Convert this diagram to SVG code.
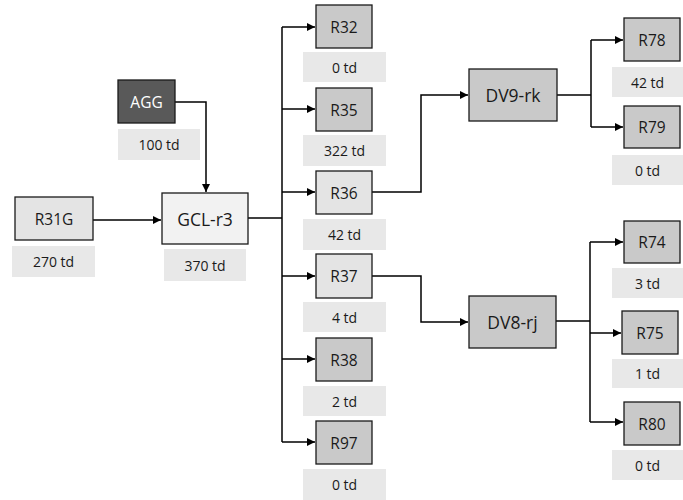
<svg xmlns="http://www.w3.org/2000/svg" width="683" height="500" viewBox="0 0 683 500">
  <defs>
    <marker id="arrow" viewBox="0 0 10 10" refX="10" refY="5" markerWidth="8" markerHeight="8" markerUnits="userSpaceOnUse" orient="auto">
      <path d="M0,0 L10,5 L0,10 z" fill="#000"/>
    </marker>
    <style>
      .box { stroke: #1a1a1a; stroke-width: 1.3; }
      .dark { fill: #595959; }
      .mid { fill: #c9c9c9; }
      .light { fill: #e4e4e4; }
      .pale { fill: #f2f2f2; }
      .tag { fill: #e8e8e8; }
      text { font-family: "Open Sans", "Noto Sans", "Liberation Sans", sans-serif; text-anchor: middle; dominant-baseline: central; fill: #1a1a1a; }
      .name { font-size: 15.5px; }
      .big { font-size: 17.5px; }
      .td { font-size: 14px; }
      .wire { fill: none; stroke: #000; stroke-width: 1.5; }
    </style>
  </defs>
  <rect width="683" height="500" fill="#fff"/>

  <!-- connectors -->
  <g id="connectors">
    <path class="wire" d="M175,102 H206 V192" marker-end="url(#arrow)"/>
    <path class="wire" d="M93,220 H161" marker-end="url(#arrow)"/>
    <path class="wire" d="M248,218 H282"/>
    <path class="wire" d="M282,27 V442"/>
    <path class="wire" d="M282,27 H315" marker-end="url(#arrow)"/>
    <path class="wire" d="M282,109 H315" marker-end="url(#arrow)"/>
    <path class="wire" d="M282,192 H315" marker-end="url(#arrow)"/>
    <path class="wire" d="M282,276 H315" marker-end="url(#arrow)"/>
    <path class="wire" d="M282,359 H315" marker-end="url(#arrow)"/>
    <path class="wire" d="M282,442 H315" marker-end="url(#arrow)"/>
    <path class="wire" d="M372,192 H421 V95 H468" marker-end="url(#arrow)"/>
    <path class="wire" d="M372,276 H421 V322 H468" marker-end="url(#arrow)"/>
    <path class="wire" d="M557,95 H591"/>
    <path class="wire" d="M591,40 V127"/>
    <path class="wire" d="M591,40 H623" marker-end="url(#arrow)"/>
    <path class="wire" d="M591,127 H623" marker-end="url(#arrow)"/>
    <path class="wire" d="M556,321 H590"/>
    <path class="wire" d="M590,242 V422"/>
    <path class="wire" d="M590,242 H623" marker-end="url(#arrow)"/>
    <path class="wire" d="M590,333 H621" marker-end="url(#arrow)"/>
    <path class="wire" d="M590,422 H623" marker-end="url(#arrow)"/>
  </g>

  <g id="AGG">
    <rect class="box dark" x="118" y="80" width="57" height="43"/>
    <text class="name" x="146.5" y="101.5" style="fill:#fff">AGG</text>
    <rect class="tag" x="118" y="129" width="82" height="31"/>
    <text class="td" x="159" y="144.5">100 td</text>
  </g>

  <g id="R31G">
    <rect class="box light" x="15" y="197" width="78" height="43"/>
    <text class="name" x="54" y="218.5">R31G</text>
    <rect class="tag" x="12" y="246" width="83" height="31"/>
    <text class="td" x="53.5" y="261.5">270 td</text>
  </g>

  <g id="GCL-r3">
    <rect class="box pale" x="162" y="193" width="86" height="51"/>
    <text class="big" x="205" y="218.5">GCL-r3</text>
    <rect class="tag" x="164" y="249" width="82" height="32"/>
    <text class="td" x="205" y="265">370 td</text>
  </g>

  <g id="R32">
    <rect class="box mid" x="316" y="5" width="56" height="43"/>
    <text class="name" x="344" y="26.5">R32</text>
    <rect class="tag" x="303" y="52" width="83" height="30"/>
    <text class="td" x="344.5" y="67">0 td</text>
  </g>

  <g id="R35">
    <rect class="box mid" x="316" y="88" width="56" height="43"/>
    <text class="name" x="344" y="109.5">R35</text>
    <rect class="tag" x="303" y="135" width="83" height="31"/>
    <text class="td" x="344.5" y="150.5">322 td</text>
  </g>

  <g id="R36">
    <rect class="box light" x="316" y="171" width="56" height="43"/>
    <text class="name" x="344" y="192.5">R36</text>
    <rect class="tag" x="303" y="219" width="83" height="31"/>
    <text class="td" x="344.5" y="234.5">42 td</text>
  </g>

  <g id="R37">
    <rect class="box light" x="316" y="254" width="56" height="44"/>
    <text class="name" x="344" y="276">R37</text>
    <rect class="tag" x="303" y="302" width="83" height="30"/>
    <text class="td" x="344.5" y="317">4 td</text>
  </g>

  <g id="R38">
    <rect class="box mid" x="316" y="338" width="56" height="43"/>
    <text class="name" x="344" y="359.5">R38</text>
    <rect class="tag" x="303" y="386" width="83" height="30"/>
    <text class="td" x="344.5" y="401">2 td</text>
  </g>

  <g id="R97">
    <rect class="box mid" x="316" y="421" width="56" height="43"/>
    <text class="name" x="344" y="442.5">R97</text>
    <rect class="tag" x="303" y="469" width="83" height="31"/>
    <text class="td" x="344.5" y="484.5">0 td</text>
  </g>

  <g id="DV9-rk">
    <rect class="box mid" x="469" y="69" width="88" height="52"/>
    <text class="big" x="513" y="95">DV9-rk</text>
  </g>

  <g id="DV8-rj">
    <rect class="box mid" x="469" y="296" width="87" height="52"/>
    <text class="big" x="512.5" y="322">DV8-rj</text>
  </g>

  <g id="R78">
    <rect class="box mid" x="624" y="18" width="56" height="43"/>
    <text class="name" x="652" y="39.5">R78</text>
    <rect class="tag" x="612" y="67" width="71" height="30"/>
    <text class="td" x="647.5" y="82">42 td</text>
  </g>

  <g id="R79">
    <rect class="box mid" x="624" y="106" width="56" height="42"/>
    <text class="name" x="652" y="127">R79</text>
    <rect class="tag" x="612" y="155" width="71" height="30"/>
    <text class="td" x="647.5" y="170">0 td</text>
  </g>

  <g id="R74">
    <rect class="box mid" x="624" y="221" width="56" height="42"/>
    <text class="name" x="652" y="242">R74</text>
    <rect class="tag" x="612" y="268" width="71" height="30"/>
    <text class="td" x="647.5" y="283">3 td</text>
  </g>

  <g id="R75">
    <rect class="box mid" x="622" y="311" width="56" height="43"/>
    <text class="name" x="650" y="332.5">R75</text>
    <rect class="tag" x="612" y="359" width="71" height="29"/>
    <text class="td" x="647.5" y="373.5">1 td</text>
  </g>

  <g id="R80">
    <rect class="box mid" x="624" y="402" width="56" height="43"/>
    <text class="name" x="652" y="423.5">R80</text>
    <rect class="tag" x="612" y="450" width="71" height="30"/>
    <text class="td" x="647.5" y="465">0 td</text>
  </g>
</svg>
